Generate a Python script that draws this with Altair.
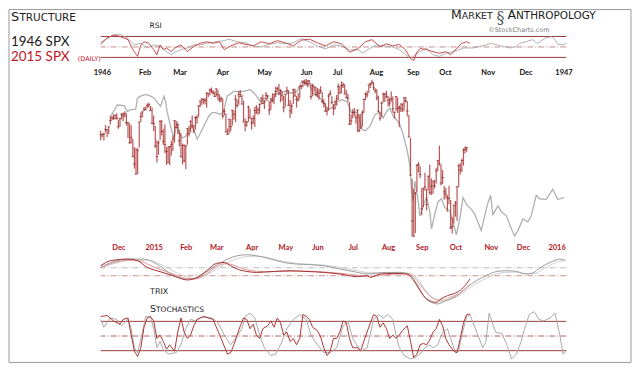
import altair as alt
import pandas as pd

# ---------------- 2015 SPX daily bars (from 2014-11-13 to 2015-10-12) ----------------
close15 = [
    2039.8, 2039.8, 2041.3, 2048.7, 2048.2, 2052.8, 2063.5, 2069.4, 2067.0, 2072.8, 2067.6,
    2053.4, 2066.6, 2074.3, 2071.9, 2075.4, 2060.3, 2059.8, 2026.1, 2035.3, 2002.3, 1989.6,
    1972.7, 2012.9, 2061.2, 2070.7, 2078.5, 2082.2, 2081.9, 2088.8, 2090.6, 2080.4, 2058.9,
    2058.2, 2020.6, 2002.6, 2025.9, 2062.1, 2044.8, 2028.3, 2023.0, 2011.3, 1992.7, 2019.4,
    2022.6, 2032.1, 2063.2, 2051.8, 2057.1, 2029.6, 2002.2, 2021.3, 1995.0,
    2020.9, 2050.0, 2041.5, 2062.5, 2055.5, 2046.7, 2068.6, 2068.5, 2088.5, 2097.0, 2100.3,
    2099.7, 2097.5, 2110.3, 2109.7, 2115.5, 2113.9, 2110.7, 2104.5,
    2117.4, 2107.8, 2098.5, 2101.0, 2071.3, 2079.4, 2044.2, 2040.2, 2065.9, 2053.4, 2081.2,
    2074.3, 2099.5, 2089.3, 2108.1, 2104.4, 2091.5, 2061.1, 2056.2, 2061.0, 2086.2, 2067.9,
    2059.7, 2067.0, 2080.6, 2076.3, 2081.9, 2091.2, 2102.1, 2092.4, 2095.8, 2106.6, 2105.0,
    2081.2, 2100.4, 2097.3, 2108.0, 2112.9, 2117.7, 2108.9, 2114.8, 2106.9, 2085.5,
    2108.3, 2114.5, 2089.5, 2080.2, 2088.0, 2116.1, 2105.3, 2099.9, 2098.5, 2121.1, 2122.7,
    2129.2, 2127.8, 2125.9, 2130.8, 2126.1, 2104.2, 2123.5, 2120.8, 2107.4,
    2111.7, 2109.6, 2114.1, 2095.8, 2092.8, 2079.3, 2080.2, 2105.2, 2108.9, 2094.1, 2084.4,
    2096.3, 2100.4, 2121.2, 2110.0, 2122.9, 2124.2, 2108.6, 2102.3, 2101.5, 2057.6, 2063.1,
    2077.4, 2076.8, 2068.8, 2081.3, 2046.7, 2051.3, 2076.6, 2099.6, 2109.0, 2107.4, 2124.3,
    2126.6, 2128.3, 2119.2, 2114.2, 2102.2, 2079.7, 2067.6, 2093.3, 2108.6, 2108.6, 2103.8,
    2098.0, 2093.3, 2099.8, 2083.6, 2077.6, 2104.2, 2084.1, 2086.1, 2083.4, 2091.5, 2102.4,
    2096.9, 2079.6, 2035.7, 1970.9, 1893.2, 1867.6, 1940.5, 1987.7, 1988.9, 1972.2,
    1913.9, 1948.9, 1951.1, 1921.2, 1969.4, 1942.0, 1952.3, 1961.1, 1953.0, 1978.1, 1995.3,
    1990.2, 1958.0, 1967.0, 1942.7, 1938.8, 1932.2, 1931.3, 1881.8, 1884.1, 1920.0,
    1923.8, 1951.4, 1987.1, 1979.9, 1995.8, 2013.4, 2014.9, 2017.5,
]
high15 = [
    2046.2, 2041.3, 2043.1, 2056.1, 2049.1, 2053.9, 2071.5, 2070.2, 2074.2, 2073.1, 2075.8,
    2065.1, 2068.2, 2076.3, 2077.3, 2079.5, 2075.5, 2060.6, 2058.9, 2055.5, 2032.8, 2018.7,
    2016.9, 2016.8, 2061.2, 2077.9, 2078.8, 2086.7, 2087.6, 2092.7, 2093.6, 2088.6, 2085.6,
    2072.4, 2054.4, 2030.3, 2029.6, 2064.1, 2064.4, 2049.3, 2056.9, 2018.4, 2021.0, 2020.5,
    2028.9, 2038.3, 2064.6, 2063.0, 2057.6, 2047.9, 2042.5, 2024.6, 2023.3,
    2021.7, 2050.3, 2054.7, 2063.6, 2072.4, 2056.2, 2070.9, 2073.5, 2089.0, 2097.0, 2101.3,
    2100.2, 2102.1, 2110.6, 2110.1, 2117.9, 2119.6, 2115.0, 2112.7,
    2117.5, 2115.8, 2107.7, 2104.3, 2100.9, 2083.5, 2076.2, 2050.1, 2066.4, 2065.9, 2081.4,
    2080.6, 2106.9, 2098.7, 2113.9, 2114.9, 2107.6, 2097.4, 2067.2, 2062.8, 2089.0, 2084.1,
    2067.9, 2072.2, 2087.0, 2089.8, 2086.7, 2092.4, 2102.6, 2107.7, 2098.3, 2111.9, 2107.0,
    2095.1, 2101.9, 2109.6, 2109.6, 2120.9, 2120.9, 2125.9, 2116.9, 2113.7, 2105.1,
    2108.4, 2120.9, 2115.2, 2098.4, 2092.9, 2117.7, 2117.7, 2105.1, 2110.2, 2121.5, 2123.9,
    2131.8, 2133.0, 2134.7, 2131.8, 2132.2, 2126.2, 2126.0, 2122.3, 2120.7,
    2119.2, 2117.6, 2121.9, 2112.1, 2100.2, 2093.0, 2085.7, 2109.0, 2115.0, 2104.9, 2091.7,
    2097.4, 2106.8, 2126.6, 2121.9, 2130.2, 2128.0, 2125.1, 2116.0, 2108.9, 2095.3, 2074.3,
    2082.8, 2085.1, 2074.0, 2082.1, 2074.3, 2074.9, 2081.3, 2100.7, 2111.0, 2114.2, 2124.4,
    2127.0, 2132.8, 2128.9, 2118.5, 2116.9, 2106.0, 2078.7, 2095.6, 2110.6, 2110.5, 2114.2,
    2105.7, 2102.5, 2112.7, 2104.2, 2078.9, 2105.4, 2102.5, 2089.1, 2092.9, 2092.5, 2102.9,
    2103.5, 2096.2, 2073.6, 2034.1, 1965.1, 1948.0, 1943.1, 1989.6, 1993.5, 1986.0,
    1948.9, 1948.9, 1975.0, 1947.8, 1970.0, 1988.6, 1965.3, 1961.1, 1963.1, 1983.4, 1997.3,
    2020.9, 1989.6, 1979.6, 1953.1, 1949.5, 1937.2, 1952.9, 1929.0, 1899.5, 1920.5,
    1927.2, 1951.4, 1989.4, 1991.6, 1999.3, 2016.5, 2020.1, 2018.7,
]
low15 = [
    2030.2, 2035.3, 2030.0, 2043.2, 2035.9, 2040.5, 2056.8, 2064.0, 2064.8, 2066.4, 2065.1,
    2049.6, 2053.4, 2066.0, 2062.3, 2069.4, 2055.2, 2034.2, 2024.3, 2024.6, 2002.3, 1982.3,
    1972.6, 1973.0, 2018.1, 2061.0, 2069.3, 2079.8, 2081.9, 2084.9, 2085.8, 2079.5, 2057.9,
    2046.0, 2017.3, 1992.4, 2005.6, 2030.6, 2038.3, 2022.6, 2008.3, 1988.4, 1991.5, 1988.1,
    2004.5, 2012.0, 2026.4, 2050.5, 2041.0, 2019.9, 2001.5, 1989.2, 1993.4,
    1980.9, 2022.7, 2036.7, 2043.5, 2050.0, 2041.9, 2048.6, 2058.0, 2070.0, 2086.7, 2089.8,
    2092.2, 2090.8, 2085.4, 2103.0, 2105.9, 2109.9, 2107.3, 2103.8,
    2104.5, 2098.3, 2094.5, 2095.2, 2067.3, 2072.2, 2044.2, 2039.7, 2041.2, 2045.1, 2055.3,
    2065.1, 2061.2, 2085.6, 2090.3, 2104.4, 2091.5, 2061.1, 2045.5, 2053.0, 2061.1, 2067.0,
    2048.4, 2057.3, 2052.7, 2076.1, 2073.3, 2075.0, 2091.1, 2092.3, 2083.2, 2097.0, 2100.8,
    2073.2, 2081.7, 2094.4, 2091.1, 2103.2, 2112.7, 2107.0, 2094.9, 2097.4, 2077.6,
    2087.1, 2108.3, 2088.5, 2067.9, 2075.0, 2092.1, 2104.6, 2085.6, 2096.0, 2100.4, 2116.8,
    2120.0, 2124.5, 2122.6, 2120.0, 2126.1, 2099.2, 2105.1, 2112.8, 2104.9,
    2102.5, 2099.1, 2109.6, 2093.2, 2085.7, 2079.1, 2072.1, 2080.5, 2106.1, 2090.8, 2072.5,
    2082.1, 2088.9, 2099.1, 2109.6, 2110.1, 2119.0, 2108.6, 2101.8, 2095.4, 2056.2, 2056.3,
    2067.0, 2071.0, 2058.4, 2044.0, 2044.0, 2049.3, 2053.0, 2076.6, 2098.2, 2102.5, 2110.4,
    2119.1, 2123.7, 2115.4, 2110.0, 2098.1, 2077.1, 2063.5, 2069.1, 2094.1, 2095.0, 2102.1,
    2087.3, 2088.0, 2095.1, 2077.1, 2067.0, 2080.0, 2076.5, 2052.1, 2078.3, 2078.3, 2079.3,
    2094.1, 2070.5, 2035.7, 1970.9, 1867.0, 1867.1, 1872.8, 1942.8, 1975.2, 1966.0,
    1903.1, 1916.5, 1944.7, 1911.2, 1944.4, 1937.9, 1937.2, 1939.2, 1948.3, 1957.0, 1977.9,
    1987.4, 1953.5, 1955.8, 1929.2, 1932.4, 1908.9, 1921.5, 1879.2, 1871.9, 1888.9,
    1900.7, 1893.7, 1950.7, 1972.0, 1976.4, 1987.5, 2007.6, 2010.6,
]

# ---------------- 1946 SPX overlay (bar index, value on the 2015 scale) ----------------
spx1946 = [
    (6.3, 2071), (10.4, 2090), (14.5, 2089), (16.6, 2079), (18.7, 2082), (21.8, 2083),
    (22.9, 2102), (24.9, 2105), (28, 2108), (31.1, 2105), (33.2, 2102), (35.3, 2094),
    (37.3, 2088), (39.4, 2105), (40.4, 2096), (41.5, 2077), (43.5, 2054), (45.6, 2034),
    (47.7, 2062), (48.7, 2043), (50.8, 2034), (52.9, 2037), (54.9, 2046), (57, 2054),
    (59.1, 2040), (60.1, 2032), (62.2, 2043), (64.2, 2054), (67.3, 2071), (69.4, 2077),
    (71.5, 2077), (74.6, 2074), (76.6, 2079), (78.8, 2105), (82.9, 2113), (87, 2113),
    (89.1, 2113), (93.2, 2116), (96.3, 2108), (99.4, 2096), (102.5, 2102), (105.7, 2094),
    (109.8, 2110), (115, 2113), (119.1, 2110), (122.2, 2113), (125.3, 2130), (128.4, 2127),
    (130.5, 2122), (132.5, 2110), (135.7, 2105), (138.8, 2094), (141.9, 2082), (144.8, 2088),
    (147.3, 2096), (150.2, 2099), (153.3, 2096), (156.4, 2077), (158.4, 2079), (160.5, 2074),
    (162.6, 2049), (164.7, 2046), (167.8, 2054), (170.9, 2074), (174, 2077), (176, 2068),
    (178.1, 2079), (180.2, 2085), (182.2, 2071), (184.3, 2065), (186.4, 2057), (188.4, 2040),
    (190.6, 2017), (191.6, 2003), (192.6, 1987), (193.7, 1944), (194.7, 1927), (195.7, 1961),
    (197.8, 1927), (198.8, 1902), (200.9, 1919), (203, 1934), (205, 1910), (206.1, 1880),
    (208.1, 1905), (210.2, 1926), (212.3, 1931), (214.4, 1916), (217.5, 1910), (219.5, 1890),
    (221.6, 1870), (223.7, 1897), (225.7, 1933), (227.8, 1922), (230.9, 1913), (233, 1905),
    (235, 1891), (237.1, 1877), (239.2, 1902), (241.2, 1924), (242.9, 1937), (244.3, 1904),
    (247.5, 1919), (249.6, 1909), (252.7, 1902), (255.8, 1880), (257.8, 1868), (259.9, 1877),
    (263, 1897), (266.1, 1892), (268.2, 1902), (271.3, 1937), (273.4, 1931), (277.5, 1930),
    (281.6, 1947), (284.7, 1930), (288.8, 1933),
]

# ---------------- RSI ----------------
rsi2015 = [
    (0, 57), (4, 67), (8, 73), (12, 70), (17, 64), (20, 45), (23, 32), (25, 54), (27, 60),
    (30, 57), (33, 45), (35, 35), (37, 54), (39, 45), (41, 48), (44, 41), (46, 48), (50, 54),
    (54, 41), (58, 51), (62, 57), (66, 60), (70, 57), (74, 60), (77, 45), (81, 52), (86, 58),
    (90, 55), (95, 52), (100, 60), (105, 56), (110, 62), (115, 58), (120, 52), (125, 63),
    (130, 65), (135, 58), (140, 52), (145, 60), (150, 56), (155, 40), (160, 46), (165, 60),
    (169, 64), (174, 50), (178, 56), (182, 52), (186, 55), (190, 44), (193, 28), (195, 24),
    (197, 40), (199, 47), (203, 45), (207, 41), (211, 38), (215, 41), (218, 35), (222, 48),
    (225, 57), (228, 60), (230, 57),
]
rsi1946 = [
    (0, 54), (4, 67), (9, 74), (13, 73), (17, 66), (21, 54), (25, 57), (29, 48), (33, 54),
    (37, 51), (41, 41), (44, 35), (47, 41), (50, 45), (54, 48), (58, 54), (62, 54), (66, 57),
    (72, 60), (77, 62), (80, 65), (85, 60), (90, 58), (95, 52), (100, 50), (105, 55),
    (110, 58), (115, 56), (120, 58), (125, 66), (130, 60), (135, 52), (140, 46), (145, 54),
    (150, 52), (155, 44), (160, 46), (163, 38), (167, 46), (172, 54), (177, 52), (182, 50),
    (186, 45), (190, 35), (193, 28), (196, 36), (199, 41), (203, 48), (207, 35), (211, 32),
    (215, 38), (220, 41), (226, 48), (232, 48), (236, 51), (240, 54), (243, 57), (247, 54),
    (251, 51), (255, 48), (259, 51), (261, 57), (265, 60), (269, 64), (272, 57), (277, 67),
    (281, 70), (283, 64), (285, 55), (288, 54), (290, 57),
]
rsi_levels_solid = [70, 30]
rsi_levels_mid = [50]

# ---------------- TRIX ----------------
trix2015 = [
    (0, 0.10), (6, 0.15), (17, 0.167), (23, 0.15), (29, 0.083), (35, 0.05), (42, 0.017),
    (48, -0.017), (54, -0.043), (60, -0.017), (66, 0.05), (72, 0.123), (77, 0.133),
    (81, 0.10), (85, 0.067), (91, 0.043), (97, 0.033), (108, 0.043), (118, 0.05),
    (128, 0.043), (139, 0.033), (149, 0.017), (160, -0.01), (166, 0.0), (168, -0.017),
    (174, 0.017), (182, 0.023), (191, 0.017), (195, -0.05), (199, -0.15), (203, -0.233),
    (209, -0.267), (212, -0.233), (216, -0.20), (222, -0.167), (226, -0.117), (230, -0.033),
]
trix2015_sig = [
    (0, 0.08), (6, 0.12), (17, 0.155), (24, 0.15), (30, 0.11), (36, 0.07), (42, 0.035),
    (48, 0.0), (54, -0.03), (60, -0.03), (66, 0.02), (72, 0.09), (77, 0.12), (81, 0.115),
    (86, 0.085), (91, 0.06), (97, 0.045), (108, 0.04), (118, 0.045), (128, 0.045),
    (139, 0.038), (149, 0.025), (160, 0.005), (168, -0.005), (174, 0.005), (182, 0.015),
    (191, 0.02), (195, -0.01), (199, -0.09), (203, -0.17), (209, -0.24), (213, -0.245),
    (217, -0.22), (222, -0.19), (226, -0.15), (230, -0.09),
]
trix1946 = [
    (0, 0.003), (6, 0.05), (19, 0.087), (27, 0.087), (35, 0.037), (44, -0.063), (52, -0.113),
    (58, -0.113), (64, -0.063), (70, 0.003), (77, 0.07), (85, 0.12), (91, 0.13), (97, 0.12),
    (106, 0.087), (114, 0.053), (122, 0.037), (131, 0.03), (139, 0.02), (149, -0.013),
    (160, -0.047), (166, -0.063), (178, -0.047), (186, -0.047), (193, -0.08), (197, -0.163),
    (201, -0.28), (206, -0.347), (210, -0.363), (215, -0.33), (222, -0.28), (228, -0.197),
    (234, -0.13), (240, -0.08), (247, -0.037), (253, -0.03), (259, -0.037), (265, -0.063),
    (269, -0.053), (274, 0.003), (280, 0.053), (286, 0.087), (289, 0.077),
]
trix1946_sig = [
    (0, 0.0), (8, 0.04), (20, 0.075), (30, 0.075), (38, 0.03), (46, -0.04), (54, -0.095),
    (60, -0.105), (66, -0.07), (72, -0.015), (78, 0.045), (86, 0.095), (93, 0.115),
    (99, 0.115), (107, 0.09), (115, 0.06), (124, 0.042), (132, 0.033), (140, 0.025),
    (150, 0.0), (160, -0.03), (167, -0.05), (178, -0.05), (187, -0.045), (193, -0.06),
    (198, -0.12), (202, -0.22), (207, -0.3), (212, -0.34), (217, -0.325), (223, -0.28),
    (229, -0.21), (235, -0.15), (241, -0.1), (247, -0.06), (253, -0.045), (259, -0.045),
    (265, -0.06), (270, -0.06), (275, -0.02), (280, 0.025), (286, 0.065), (290, 0.07),
]

# ---------------- Stochastics ----------------
stoch2015 = [
    (0, 90), (4, 92), (8, 81), (12, 74), (14, 84), (17, 87), (19, 52), (21, 19), (23, 8),
    (25, 26), (27, 68), (29, 87), (31, 90), (33, 81), (35, 45), (37, 52), (39, 39), (41, 23),
    (43, 32), (46, 19), (48, 58), (50, 87), (52, 58), (54, 45), (56, 52), (58, 71), (60, 84),
    (62, 87), (64, 90), (70, 84), (75, 45), (79, 13), (81, 16), (83, 32), (85, 52), (87, 71),
    (89, 87), (91, 84), (93, 65), (95, 74), (97, 52), (99, 45), (101, 65), (104, 71),
    (106, 81), (108, 68), (110, 87), (112, 77), (114, 52), (116, 58), (118, 39), (120, 45),
    (122, 32), (124, 45), (126, 94), (128, 90), (130, 84), (132, 68), (135, 61), (137, 48),
    (139, 26), (141, 10), (143, 19), (145, 45), (147, 45), (149, 58), (151, 81), (153, 77),
    (155, 45), (157, 26), (160, 26), (162, 20), (164, 40), (168, 77), (170, 94), (172, 90),
    (174, 68), (176, 77), (178, 65), (180, 45), (182, 52), (184, 45), (186, 52), (188, 61),
    (191, 71), (193, 39), (195, 6), (197, 13), (199, 32), (201, 35), (203, 32), (205, 42),
    (207, 58), (209, 65), (211, 84), (213, 71), (215, 45), (217, 32), (220, 19), (222, 16),
    (224, 45), (226, 77), (228, 94), (230, 95),
]
stoch1946 = [
    (0, 84), (2, 68), (6, 87), (10, 84), (13, 71), (17, 84), (19, 65), (21, 26), (23, 16),
    (26, 58), (28, 90), (31, 89), (33, 65), (35, 26), (37, 39), (39, 23), (42, 13), (47, 16),
    (50, 32), (53, 65), (56, 84), (59, 81), (62, 87), (66, 89), (70, 86), (73, 77), (77, 52),
    (81, 32), (84, 45), (88, 65), (90, 90), (93, 97), (96, 87), (99, 52), (102, 26),
    (106, 10), (109, 13), (112, 32), (116, 65), (120, 84), (124, 94), (128, 84), (131, 52),
    (135, 32), (139, 16), (143, 16), (147, 26), (151, 71), (154, 81), (157, 45), (162, 19),
    (166, 26), (170, 84), (173, 94), (176, 87), (179, 94), (182, 84), (184, 52), (186, 26),
    (189, 10), (193, 3), (196, 6), (199, 13), (202, 26), (205, 32), (207, 26), (210, 32),
    (213, 58), (216, 65), (218, 45), (221, 16), (223, 19), (225, 52), (228, 90), (230, 94),
    (232, 77), (235, 52), (238, 26), (240, 39), (242, 97), (244, 77), (246, 58), (250, 55),
    (253, 32), (256, 3), (259, 13), (262, 39), (264, 65), (267, 94), (270, 100), (273, 84),
    (276, 81), (280, 87), (283, 97), (286, 52), (288, 13), (290, 19),
]
stoch_levels_solid = [80, 20]
stoch_levels_mid = [50]

# ---------------- Axis labels ----------------
axis1946_pos = [0.7, 27.4, 49.1, 75.8, 101.9, 128, 147.3, 171.5, 194.5, 214.4, 241.1, 264.7, 288.3]
axis1946_lab = ["1946", "Feb", "Mar", "Apr", "May", "Jun", "Jul", "Aug", "Sep", "Oct", "Nov", "Dec", "1947"]
axis2015_pos = [11, 33, 53, 72, 94, 115, 135, 157, 179, 200, 221, 243, 263, 284]
axis2015_lab = ["Dec", "2015", "Feb", "Mar", "Apr", "May", "Jun", "Jul", "Aug", "Sep", "Oct", "Nov", "Dec", "2016"]
price_ticks = [1880, 1900, 1920, 1940, 1960, 1980, 2000, 2020, 2040, 2060, 2080, 2100, 2120]

# ---------------- helpers ----------------
RED = "#b3141c"
BAR = "#ad3a3a"
GREY = "#b0b0b0"
LEVEL = "#9a3e3e"
DASHDOT = [6, 2, 1, 2]
W = 467
XS = alt.Scale(domain=[0, 290], nice=False, zero=False)
one = pd.DataFrame({"k": [0]})


def pairs(p):
    return pd.DataFrame(p, columns=["i", "v"])


def label_expr(pos, lab):
    arr_l = "[" + ",".join("'%s'" % s for s in lab) + "]"
    arr_p = "[" + ",".join(str(p) for p in pos) + "]"
    return "%s[indexof(%s, datum.value)]" % (arr_l, arr_p)


def txt(s, x, y, size, color="#1a1a1a", font="DejaVu Sans", weight="normal", align="left"):
    return alt.Chart(one).mark_text(
        text=s, fontSize=size, font=font, fontWeight=weight, color=color,
        align=align, baseline="alphabetic",
    ).encode(x=alt.value(x), y=alt.value(y))


def line(df, ys, color, width=1.0, interp="linear"):
    return alt.Chart(df).mark_line(color=color, strokeWidth=width, interpolate=interp).encode(
        x=alt.X("i:Q", scale=XS, axis=None),
        y=alt.Y("v:Q", scale=ys, axis=None),
    )


def levels(vals, ys, color, width=1.0, dash=None):
    kw = dict(color=color, strokeWidth=width)
    if dash:
        kw["strokeDash"] = dash
    return alt.Chart(pd.DataFrame({"v": vals})).mark_rule(**kw).encode(
        y=alt.Y("v:Q", scale=ys, axis=None)
    )


# ---------------- RSI panel (with header texts and outer frame) ----------------
rsi_scale = alt.Scale(domain=[-12, 81.5], nice=False, zero=False)
frame = alt.Chart(one).mark_rect(fillOpacity=0, stroke="#9a9a9a", strokeWidth=1).encode(
    x=alt.value(-92), x2=alt.value(532), y=alt.value(-21), y2=alt.value(333)
)
rsi_panel = alt.layer(
    frame,
    levels(rsi_levels_solid, rsi_scale, LEVEL, 1.0),
    levels(rsi_levels_mid, rsi_scale, "#b87272", 0.8, DASHDOT),
    line(pairs(rsi1946), rsi_scale, "#a8a8a8", 0.9),
    line(pairs(rsi2015), rsi_scale, "#c03a3a", 0.9),
    txt("S", -90, -10, 13),
    txt("TRUCTURE", -81.5, -10, 10.5),
    txt("1946 SPX", -90, 16, 13.5, font="Lato"),
    txt("2015 SPX", -90, 31, 13.5, color="#c0151f", font="Lato"),
    txt("(DAILY)", -23, 31, 6.5, color="#c0151f"),
    txt("RSI", 55, -2.5, 7.5, align="center"),
    txt("M", 351.5, -11.5, 12.5),
    txt("ARKET", 362.3, -11.5, 9.5),
    txt("§", 401, -8, 16, color="#555555", font="DejaVu Serif", align="center"),
    txt("A", 408, -11.5, 12.5),
    txt("NTHROPOLOGY", 416.6, -11.5, 10.5),
    txt("©StockCharts.com", 419.5, 1.5, 6.5, color="#7a7a7a", align="center"),
).properties(width=W, height=49)

# ---------------- Price panel ----------------
price_scale = alt.Scale(domain=[1858, 2133.5], nice=False, zero=False)
bars_df = pd.DataFrame({"i": list(range(len(close15))), "close": close15, "high": high15, "low": low15})

top_axis = alt.Axis(
    orient="top", values=axis1946_pos, labelExpr=label_expr(axis1946_pos, axis1946_lab),
    ticks=False, domain=False, grid=False, title=None, labelFont="Lato", labelFontWeight="bold",
    labelFontSize=7.5, labelColor="#111111", labelPadding=3, labelFlush=False, labelOverlap=False,
)
bottom_axis = alt.Axis(
    orient="bottom", values=axis2015_pos, labelExpr=label_expr(axis2015_pos, axis2015_lab),
    ticks=False, domain=False, grid=False, title=None, labelFont="Lato", labelFontWeight="bold",
    labelFontSize=7.5, labelColor=RED, labelPadding=2, labelFlush=False, labelOverlap=False,
)
right_axis = alt.Axis(
    orient="right", values=price_ticks, ticks=False, domain=False, grid=False, title=None,
    labelFont="Lato", labelFontWeight="bold", labelFontSize=7.5, labelColor=RED,
    labelPadding=23, labelFlush=False, labelOverlap=False,
)

grey_line = alt.Chart(pairs(spx1946)).mark_line(color=GREY, strokeWidth=1.3).encode(
    x=alt.X("i:Q", scale=XS, axis=top_axis),
    y=alt.Y("v:Q", scale=price_scale, axis=right_axis),
)
hl = alt.Chart(bars_df).mark_rule(color=BAR, strokeWidth=1.2, opacity=0.85).encode(
    x=alt.X("i:Q", scale=XS, axis=bottom_axis),
    y=alt.Y("low:Q", scale=price_scale, axis=None),
    y2="high:Q",
)
cl = alt.Chart(bars_df).mark_tick(orient="horizontal", size=2.6, thickness=1, color="#8a2626").encode(
    x=alt.X("i:Q", scale=XS, axis=None),
    y=alt.Y("close:Q", scale=price_scale, axis=None),
)
price_panel = alt.layer(grey_line, hl, cl).resolve_axis(x="independent").properties(width=W, height=163)

# ---------------- TRIX panel ----------------
trix_g_scale = alt.Scale(domain=[-0.44, 0.26], nice=False, zero=False)
trix_r_scale = alt.Scale(domain=[-0.36, 0.34], nice=False, zero=False)
trix_grey = alt.layer(
    levels([0], trix_g_scale, "#b5b5b5", 0.9, DASHDOT),
    line(pairs(trix1946_sig), trix_g_scale, "#cfcfcf", 1.0, "monotone"),
    line(pairs(trix1946), trix_g_scale, "#9c9c9c", 1.0, "monotone"),
)
trix_red = alt.layer(
    levels([0], trix_r_scale, "#c98585", 0.9, DASHDOT),
    line(pairs(trix2015_sig), trix_r_scale, "#d99a9a", 1.0, "monotone"),
    line(pairs(trix2015), trix_r_scale, "#a83030", 1.0, "monotone"),
)
trix_panel = alt.layer(
    trix_grey, trix_red,
    txt("TRIX", 49.5, 52, 8),
    txt("S", 49.5, 70, 9.5),
    txt("TOCHASTICS", 55.5, 70, 7.5),
).resolve_scale(y="independent").properties(width=W, height=70)

# ---------------- Stochastics panel ----------------
st_scale = alt.Scale(domain=[0, 100], nice=False, zero=False)
stoch_panel = alt.layer(
    levels(stoch_levels_solid, st_scale, LEVEL, 1.0),
    levels(stoch_levels_mid, st_scale, "#a65050", 0.9, DASHDOT),
    line(pairs(stoch1946), st_scale, "#a9a9a9", 1.0),
    line(pairs(stoch2015), st_scale, "#b03636", 1.0),
).properties(width=W, height=49)

chart = alt.vconcat(
    rsi_panel, price_panel, trix_panel, stoch_panel, spacing=0, bounds="flush"
).properties(padding=0, background="white").configure_view(stroke=None)

chart.save("out.html", embed_options={"renderer": "svg", "actions": False})
